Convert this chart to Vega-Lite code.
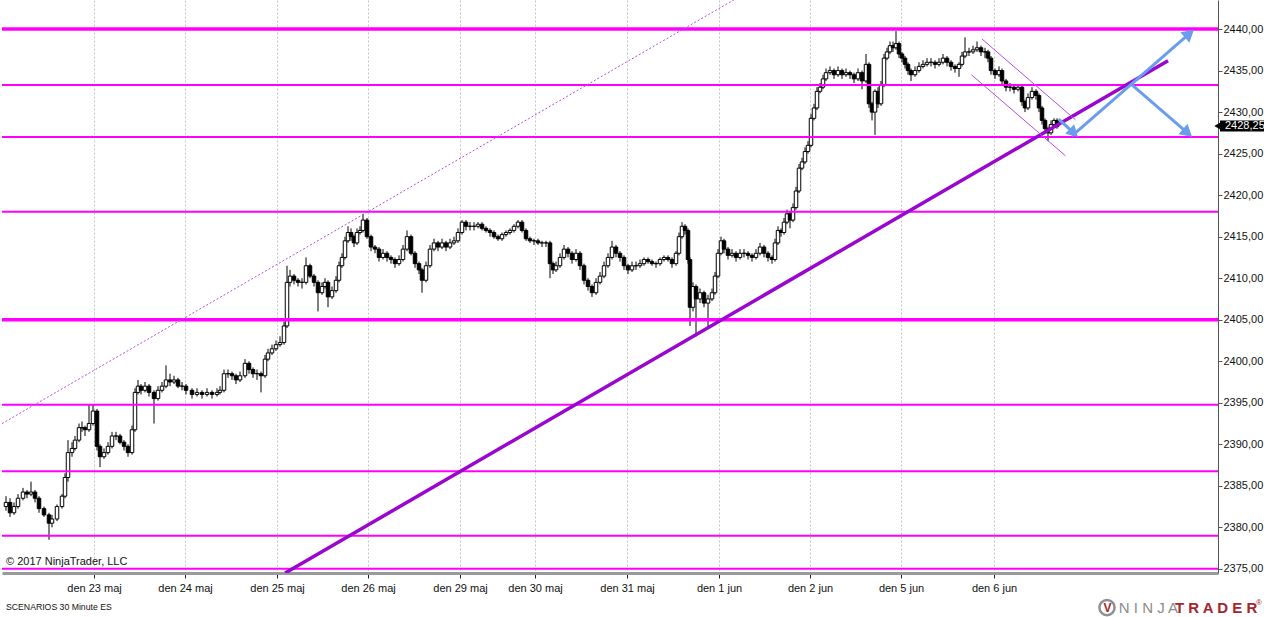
{
"$schema": "https://vega.github.io/schema/vega-lite/v6.json",
"width": 1216, "height": 573, "padding": 0, "background": "white",
"config": {"view": {"stroke": null}, "font": "Liberation Sans", "scale": {"continuousPadding": 0}},
"datasets": {
"bars": [
{"x":2,"o":2382.5,"h":2383.75,"l":2382,"c":2383},
{"x":4,"o":2383,"h":2383.5,"l":2381.25,"c":2381.75},
{"x":6,"o":2381.75,"h":2383,"l":2381.5,"c":2382.5},
{"x":8,"o":2382.5,"h":2384,"l":2382.25,"c":2383.5},
{"x":10.5,"o":2383.5,"h":2384.75,"l":2383.25,"c":2384.25},
{"x":12.5,"o":2384.25,"h":2384.5,"l":2383.5,"c":2384},
{"x":14.5,"o":2384,"h":2385.5,"l":2383.75,"c":2384.25},
{"x":16.5,"o":2384.25,"h":2384.5,"l":2383,"c":2383.5},
{"x":18.5,"o":2383.5,"h":2383.75,"l":2381.75,"c":2382.25},
{"x":21,"o":2382.25,"h":2382.5,"l":2381.25,"c":2381.5},
{"x":23.5,"o":2381.5,"h":2381.75,"l":2378.5,"c":2380.5},
{"x":25,"o":2380.5,"h":2381.5,"l":2380,"c":2381},
{"x":27.5,"o":2381,"h":2382.75,"l":2380.75,"c":2382.5},
{"x":30,"o":2382.5,"h":2384,"l":2382.25,"c":2383.75},
{"x":31.5,"o":2383.75,"h":2386.5,"l":2383.5,"c":2386},
{"x":33,"o":2386,"h":2390.5,"l":2385.5,"c":2389},
{"x":35,"o":2389,"h":2390.25,"l":2388.5,"c":2389.5},
{"x":36.5,"o":2389.5,"h":2391,"l":2389.25,"c":2390.5},
{"x":38.5,"o":2390.5,"h":2392.5,"l":2390.25,"c":2392},
{"x":40,"o":2392,"h":2392.75,"l":2391.5,"c":2392},
{"x":41.5,"o":2392,"h":2392.25,"l":2391,"c":2391.75},
{"x":43.5,"o":2391.75,"h":2394.75,"l":2391.5,"c":2392.5},
{"x":45.5,"o":2392.5,"h":2394.75,"l":2392.25,"c":2394},
{"x":47.5,"o":2394,"h":2394.25,"l":2389.25,"c":2389.75},
{"x":49,"o":2389.75,"h":2390,"l":2387.25,"c":2388.5},
{"x":51,"o":2388.5,"h":2389.5,"l":2388.25,"c":2389},
{"x":53,"o":2389,"h":2390.25,"l":2388.75,"c":2389.75},
{"x":55,"o":2389.75,"h":2391.5,"l":2389.5,"c":2391},
{"x":57,"o":2391,"h":2391.5,"l":2390.5,"c":2391},
{"x":59,"o":2391,"h":2391.25,"l":2390,"c":2390.25},
{"x":61,"o":2390.25,"h":2390.5,"l":2389.25,"c":2389.75},
{"x":63,"o":2389.75,"h":2390,"l":2388.5,"c":2389},
{"x":65,"o":2389,"h":2392.25,"l":2388.75,"c":2391.75},
{"x":66.5,"o":2391.75,"h":2396.75,"l":2391.5,"c":2396.25},
{"x":68,"o":2396.25,"h":2397.75,"l":2396,"c":2397},
{"x":69.5,"o":2397,"h":2397.25,"l":2396,"c":2396.5},
{"x":71.5,"o":2396.5,"h":2397.5,"l":2396.25,"c":2397},
{"x":73.5,"o":2397,"h":2397.25,"l":2395.75,"c":2396.25},
{"x":76,"o":2396.25,"h":2396.5,"l":2392.5,"c":2395.5},
{"x":78,"o":2395.5,"h":2397,"l":2395.25,"c":2396.5},
{"x":80,"o":2396.5,"h":2397.5,"l":2396.25,"c":2397},
{"x":82,"o":2397,"h":2399.5,"l":2396.75,"c":2397.75},
{"x":84,"o":2397.75,"h":2398.5,"l":2397,"c":2397.5},
{"x":86,"o":2397.5,"h":2398.25,"l":2397.25,"c":2397.75},
{"x":88,"o":2397.75,"h":2398,"l":2396.75,"c":2397},
{"x":90,"o":2397,"h":2397.5,"l":2396.5,"c":2397},
{"x":92,"o":2397,"h":2397.25,"l":2396,"c":2396.5},
{"x":95,"o":2396.5,"h":2396.75,"l":2395.5,"c":2396},
{"x":97.5,"o":2396,"h":2396.75,"l":2395.75,"c":2396.25},
{"x":100,"o":2396.25,"h":2396.5,"l":2395.5,"c":2396},
{"x":102.5,"o":2396,"h":2396.75,"l":2395.75,"c":2396.25},
{"x":105,"o":2396.25,"h":2396.5,"l":2395.5,"c":2396},
{"x":107.5,"o":2396,"h":2396.75,"l":2395.75,"c":2396.25},
{"x":109,"o":2396.25,"h":2397,"l":2396,"c":2396.5},
{"x":111,"o":2396.5,"h":2399,"l":2396.25,"c":2398.5},
{"x":113,"o":2398.5,"h":2399,"l":2398,"c":2398.5},
{"x":115,"o":2398.5,"h":2398.75,"l":2397.75,"c":2398.25},
{"x":117,"o":2398.25,"h":2398.5,"l":2397.25,"c":2397.75},
{"x":119,"o":2397.75,"h":2398.75,"l":2397.5,"c":2398.25},
{"x":121.5,"o":2398.25,"h":2400.25,"l":2398,"c":2399.75},
{"x":123.5,"o":2399.75,"h":2400,"l":2398.5,"c":2399},
{"x":125.5,"o":2399,"h":2399.25,"l":2398,"c":2398.5},
{"x":127.5,"o":2398.5,"h":2399,"l":2397.75,"c":2398.5},
{"x":129.5,"o":2398.5,"h":2398.75,"l":2396.25,"c":2398.25},
{"x":131.5,"o":2398.25,"h":2400.75,"l":2398,"c":2400.25},
{"x":133,"o":2400.25,"h":2401.5,"l":2400,"c":2401},
{"x":135,"o":2401,"h":2402,"l":2400.75,"c":2401.5},
{"x":137,"o":2401.5,"h":2402.5,"l":2401.25,"c":2402},
{"x":139,"o":2402,"h":2403,"l":2401.75,"c":2402.25},
{"x":141,"o":2402.25,"h":2404.75,"l":2402,"c":2404.25},
{"x":142.5,"o":2404.25,"h":2411.5,"l":2404,"c":2409.5},
{"x":144,"o":2409.5,"h":2411,"l":2409,"c":2410.25},
{"x":146,"o":2410.25,"h":2410.5,"l":2409.25,"c":2409.75},
{"x":148,"o":2409.75,"h":2410,"l":2409,"c":2409.5},
{"x":150,"o":2409.5,"h":2410,"l":2408.75,"c":2409.5},
{"x":152,"o":2409.5,"h":2412.5,"l":2409.25,"c":2411.5},
{"x":154,"o":2411.5,"h":2411.75,"l":2410,"c":2410.25},
{"x":156,"o":2410.25,"h":2410.5,"l":2409,"c":2409.5},
{"x":158,"o":2409.5,"h":2409.75,"l":2406,"c":2408.25},
{"x":160,"o":2408.25,"h":2409.5,"l":2408,"c":2409},
{"x":161.5,"o":2409,"h":2410,"l":2408.75,"c":2409.5},
{"x":163,"o":2409.5,"h":2409.75,"l":2406.5,"c":2407.75},
{"x":165,"o":2407.75,"h":2409,"l":2407.5,"c":2408.5},
{"x":167,"o":2408.5,"h":2410.25,"l":2408.25,"c":2409.75},
{"x":168.5,"o":2409.75,"h":2412,"l":2409.5,"c":2411.5},
{"x":170,"o":2411.5,"h":2413,"l":2411.25,"c":2412.5},
{"x":171.5,"o":2412.5,"h":2415,"l":2412.25,"c":2414.5},
{"x":173,"o":2414.5,"h":2416.25,"l":2414.25,"c":2415.5},
{"x":174.5,"o":2415.5,"h":2416,"l":2414.5,"c":2415},
{"x":176,"o":2415,"h":2415.25,"l":2413.75,"c":2414.25},
{"x":177.5,"o":2414.25,"h":2416,"l":2414,"c":2415.5},
{"x":179,"o":2415.5,"h":2416.25,"l":2415.25,"c":2415.75},
{"x":180.5,"o":2415.75,"h":2417.75,"l":2415.5,"c":2417},
{"x":182.5,"o":2417,"h":2417.25,"l":2414.75,"c":2415},
{"x":184.5,"o":2415,"h":2415.25,"l":2413.25,"c":2413.75},
{"x":186.5,"o":2413.75,"h":2414,"l":2413,"c":2413.5},
{"x":188.5,"o":2413.5,"h":2413.75,"l":2412,"c":2412.5},
{"x":190.5,"o":2412.5,"h":2413.5,"l":2412.25,"c":2413},
{"x":192.5,"o":2413,"h":2413.25,"l":2412,"c":2412.5},
{"x":194.5,"o":2412.5,"h":2412.75,"l":2411.75,"c":2412.25},
{"x":196.5,"o":2412.25,"h":2412.5,"l":2411.25,"c":2411.75},
{"x":198.5,"o":2411.75,"h":2412.75,"l":2411.5,"c":2412.25},
{"x":200.5,"o":2412.25,"h":2414,"l":2412,"c":2413.5},
{"x":202.5,"o":2413.5,"h":2415.75,"l":2413.25,"c":2415},
{"x":204.5,"o":2415,"h":2415.25,"l":2412.75,"c":2413},
{"x":206.5,"o":2413,"h":2413.25,"l":2411.25,"c":2411.75},
{"x":208.5,"o":2411.75,"h":2412,"l":2410.5,"c":2411},
{"x":210,"o":2411,"h":2411.25,"l":2408.25,"c":2409.75},
{"x":212,"o":2409.75,"h":2412,"l":2409.5,"c":2411.5},
{"x":214,"o":2411.5,"h":2414,"l":2411.25,"c":2413.5},
{"x":216,"o":2413.5,"h":2414.75,"l":2413.25,"c":2414.25},
{"x":218,"o":2414.25,"h":2414.5,"l":2413.25,"c":2413.75},
{"x":220,"o":2413.75,"h":2414.75,"l":2413.5,"c":2414.25},
{"x":222,"o":2414.25,"h":2414.5,"l":2413.25,"c":2413.75},
{"x":224,"o":2413.75,"h":2414.75,"l":2413.5,"c":2414.25},
{"x":226,"o":2414.25,"h":2415,"l":2414,"c":2414.5},
{"x":228,"o":2414.5,"h":2416,"l":2414.25,"c":2415.5},
{"x":230,"o":2415.5,"h":2417,"l":2415.25,"c":2416.75},
{"x":232,"o":2416.75,"h":2417,"l":2415.75,"c":2416.25},
{"x":234,"o":2416.25,"h":2416.75,"l":2415.75,"c":2416.25},
{"x":236,"o":2416.25,"h":2416.75,"l":2415.75,"c":2416.25},
{"x":238,"o":2416.25,"h":2416.75,"l":2416,"c":2416.5},
{"x":240,"o":2416.5,"h":2416.75,"l":2415.75,"c":2416},
{"x":242,"o":2416,"h":2416.25,"l":2415.5,"c":2415.75},
{"x":244,"o":2415.75,"h":2416,"l":2415,"c":2415.5},
{"x":246,"o":2415.5,"h":2415.75,"l":2414.75,"c":2415},
{"x":248,"o":2415,"h":2415.25,"l":2414.5,"c":2414.75},
{"x":250,"o":2414.75,"h":2415.5,"l":2414.5,"c":2415.25},
{"x":252,"o":2415.25,"h":2415.75,"l":2415,"c":2415.5},
{"x":254,"o":2415.5,"h":2416,"l":2415.25,"c":2415.75},
{"x":256,"o":2415.75,"h":2416.5,"l":2415.5,"c":2416.25},
{"x":258,"o":2416.25,"h":2417,"l":2416,"c":2416.75},
{"x":260,"o":2416.75,"h":2417,"l":2415.5,"c":2415.75},
{"x":262,"o":2415.75,"h":2416,"l":2414.5,"c":2414.75},
{"x":264,"o":2414.75,"h":2415,"l":2414.25,"c":2414.5},
{"x":266,"o":2414.5,"h":2414.75,"l":2414,"c":2414.5},
{"x":268,"o":2414.5,"h":2414.75,"l":2414,"c":2414.25},
{"x":270,"o":2414.25,"h":2414.5,"l":2413.75,"c":2414.25},
{"x":272,"o":2414.25,"h":2414.5,"l":2413.75,"c":2414.25},
{"x":274,"o":2414.25,"h":2414.5,"l":2410,"c":2411.75},
{"x":275.5,"o":2411.75,"h":2412,"l":2410.5,"c":2411},
{"x":277,"o":2411,"h":2412,"l":2410.75,"c":2411.5},
{"x":279,"o":2411.5,"h":2413,"l":2411.25,"c":2412.5},
{"x":281,"o":2412.5,"h":2414,"l":2412.25,"c":2413.5},
{"x":283,"o":2413.5,"h":2413.75,"l":2412.5,"c":2413},
{"x":285,"o":2413,"h":2413.25,"l":2411.75,"c":2412.25},
{"x":287,"o":2412.25,"h":2413.5,"l":2412,"c":2413},
{"x":289,"o":2413,"h":2413.25,"l":2411,"c":2411.5},
{"x":291,"o":2411.5,"h":2411.75,"l":2409.25,"c":2409.75},
{"x":293,"o":2409.75,"h":2410,"l":2408.5,"c":2409},
{"x":295,"o":2409,"h":2409.25,"l":2407.75,"c":2408.25},
{"x":297,"o":2408.25,"h":2410,"l":2408,"c":2409.5},
{"x":299,"o":2409.5,"h":2410.75,"l":2409.25,"c":2410.25},
{"x":301,"o":2410.25,"h":2412,"l":2410,"c":2411.5},
{"x":303,"o":2411.5,"h":2413,"l":2411.25,"c":2412.5},
{"x":305,"o":2412.5,"h":2414.5,"l":2412.25,"c":2413.75},
{"x":307,"o":2413.75,"h":2414,"l":2412.5,"c":2413},
{"x":309,"o":2413,"h":2413.25,"l":2412,"c":2412.5},
{"x":311,"o":2412.5,"h":2412.75,"l":2411,"c":2411.5},
{"x":313,"o":2411.5,"h":2411.75,"l":2410.5,"c":2411},
{"x":315,"o":2411,"h":2412,"l":2410.75,"c":2411.5},
{"x":317,"o":2411.5,"h":2412,"l":2411,"c":2411.5},
{"x":319,"o":2411.5,"h":2412.25,"l":2411.25,"c":2411.75},
{"x":321,"o":2411.75,"h":2412.5,"l":2411.5,"c":2412.25},
{"x":323,"o":2412.25,"h":2412.5,"l":2411.75,"c":2412},
{"x":325,"o":2412,"h":2412.25,"l":2411.5,"c":2411.75},
{"x":327,"o":2411.75,"h":2412,"l":2411.25,"c":2411.75},
{"x":329,"o":2411.75,"h":2412.5,"l":2411.5,"c":2412.25},
{"x":331,"o":2412.25,"h":2412.75,"l":2412,"c":2412.5},
{"x":333,"o":2412.5,"h":2412.75,"l":2412,"c":2412.25},
{"x":335,"o":2412.25,"h":2412.5,"l":2411.25,"c":2411.75},
{"x":337,"o":2411.75,"h":2413.25,"l":2411.5,"c":2413},
{"x":338.5,"o":2413,"h":2415.5,"l":2412.75,"c":2415},
{"x":340,"o":2415,"h":2416.75,"l":2414.75,"c":2416.25},
{"x":341.5,"o":2416.25,"h":2416.5,"l":2415.25,"c":2415.75},
{"x":343,"o":2415.75,"h":2416,"l":2411.75,"c":2412.25},
{"x":344,"o":2412.25,"h":2412.5,"l":2404.25,"c":2406.5},
{"x":345.5,"o":2406.5,"h":2409.5,"l":2406,"c":2409},
{"x":347,"o":2409,"h":2409.25,"l":2403,"c":2407.5},
{"x":349,"o":2407.5,"h":2408.75,"l":2407,"c":2408.25},
{"x":351,"o":2408.25,"h":2408.5,"l":2406.5,"c":2407},
{"x":353,"o":2407,"h":2408,"l":2404,"c":2407.5},
{"x":355,"o":2407.5,"h":2408.75,"l":2407.25,"c":2408.25},
{"x":356.5,"o":2408.25,"h":2410.75,"l":2408,"c":2410.25},
{"x":358,"o":2410.25,"h":2413.5,"l":2410,"c":2413},
{"x":359.5,"o":2413,"h":2415,"l":2412.75,"c":2414.5},
{"x":361,"o":2414.5,"h":2414.75,"l":2413,"c":2413.5},
{"x":363,"o":2413.5,"h":2413.75,"l":2412.25,"c":2412.75},
{"x":365,"o":2412.75,"h":2413.5,"l":2412.5,"c":2413},
{"x":367,"o":2413,"h":2413.25,"l":2412,"c":2412.5},
{"x":369,"o":2412.5,"h":2413.5,"l":2412.25,"c":2413},
{"x":371,"o":2413,"h":2413.5,"l":2412.5,"c":2413},
{"x":373,"o":2413,"h":2413.25,"l":2412.25,"c":2412.75},
{"x":375,"o":2412.75,"h":2413,"l":2412,"c":2412.5},
{"x":377,"o":2412.5,"h":2413.5,"l":2412.25,"c":2413},
{"x":379,"o":2413,"h":2414.25,"l":2412.75,"c":2413.75},
{"x":381,"o":2413.75,"h":2414,"l":2412.5,"c":2413},
{"x":383,"o":2413,"h":2413.25,"l":2412,"c":2412.5},
{"x":385,"o":2412.5,"h":2412.75,"l":2411.75,"c":2412.25},
{"x":386.5,"o":2412.25,"h":2414.75,"l":2412,"c":2414.25},
{"x":388,"o":2414.25,"h":2416.25,"l":2414,"c":2415.75},
{"x":389.5,"o":2415.75,"h":2416,"l":2415,"c":2415.5},
{"x":391,"o":2415.5,"h":2417.25,"l":2415.25,"c":2416.75},
{"x":392.5,"o":2416.75,"h":2418.25,"l":2416.5,"c":2417.75},
{"x":394,"o":2417.75,"h":2418,"l":2416,"c":2417},
{"x":395.5,"o":2417,"h":2419,"l":2416.75,"c":2418.5},
{"x":397,"o":2418.5,"h":2421,"l":2418.25,"c":2420.5},
{"x":398.5,"o":2420.5,"h":2423.75,"l":2420.25,"c":2423.25},
{"x":400,"o":2423.25,"h":2424.5,"l":2423,"c":2424},
{"x":401.5,"o":2424,"h":2425.75,"l":2423.75,"c":2425.25},
{"x":403,"o":2425.25,"h":2426.5,"l":2425,"c":2426},
{"x":404.5,"o":2426,"h":2429.75,"l":2425.75,"c":2429.25},
{"x":406,"o":2429.25,"h":2431,"l":2429,"c":2430.5},
{"x":407.5,"o":2430.5,"h":2433,"l":2430.25,"c":2432.5},
{"x":409,"o":2432.5,"h":2433.5,"l":2432.25,"c":2433},
{"x":410.5,"o":2433,"h":2434.5,"l":2432.75,"c":2434},
{"x":412,"o":2434,"h":2435.25,"l":2433.75,"c":2434.75},
{"x":414,"o":2434.75,"h":2435.5,"l":2434.5,"c":2435},
{"x":416,"o":2435,"h":2435.25,"l":2434,"c":2434.5},
{"x":418,"o":2434.5,"h":2435.5,"l":2434.25,"c":2435},
{"x":420,"o":2435,"h":2435.25,"l":2434,"c":2434.5},
{"x":422,"o":2434.5,"h":2435.25,"l":2434.25,"c":2434.75},
{"x":424,"o":2434.75,"h":2435,"l":2434,"c":2434.5},
{"x":426,"o":2434.5,"h":2434.75,"l":2433.5,"c":2434},
{"x":428,"o":2434,"h":2435.25,"l":2433.75,"c":2434.75},
{"x":430,"o":2434.75,"h":2435,"l":2432.75,"c":2433.75},
{"x":432,"o":2433.75,"h":2437,"l":2433.5,"c":2435.75},
{"x":433.5,"o":2435.75,"h":2436,"l":2430.5,"c":2431},
{"x":435,"o":2431,"h":2431.25,"l":2429,"c":2430},
{"x":436.5,"o":2430,"h":2432.75,"l":2427.25,"c":2432.5},
{"x":438,"o":2432.5,"h":2433,"l":2430.5,"c":2431},
{"x":439.5,"o":2431,"h":2433.75,"l":2430.75,"c":2433.25},
{"x":441,"o":2433.25,"h":2437,"l":2433,"c":2436.5},
{"x":442.5,"o":2436.5,"h":2437.75,"l":2436.25,"c":2437.25},
{"x":444,"o":2437.25,"h":2438.5,"l":2437,"c":2438},
{"x":445.5,"o":2438,"h":2438.5,"l":2437.25,"c":2437.75},
{"x":447,"o":2437.75,"h":2439.75,"l":2437.5,"c":2438.25},
{"x":448.5,"o":2438.25,"h":2438.5,"l":2436.5,"c":2437},
{"x":450,"o":2437,"h":2437.25,"l":2436,"c":2436.5},
{"x":451.5,"o":2436.5,"h":2436.75,"l":2435.25,"c":2435.75},
{"x":453,"o":2435.75,"h":2436,"l":2434.5,"c":2435},
{"x":454.5,"o":2435,"h":2435.25,"l":2433.75,"c":2434.5},
{"x":456.5,"o":2434.5,"h":2435.5,"l":2434.25,"c":2435},
{"x":458.5,"o":2435,"h":2436,"l":2434.75,"c":2435.5},
{"x":460.5,"o":2435.5,"h":2436.25,"l":2435.25,"c":2435.75},
{"x":462.5,"o":2435.75,"h":2436.5,"l":2435.5,"c":2436},
{"x":464.5,"o":2436,"h":2436.5,"l":2435.5,"c":2436},
{"x":466.5,"o":2436,"h":2436.25,"l":2435.25,"c":2435.75},
{"x":468.5,"o":2435.75,"h":2436.5,"l":2435.5,"c":2436},
{"x":470.5,"o":2436,"h":2437,"l":2435.75,"c":2436.5},
{"x":472.5,"o":2436.5,"h":2436.75,"l":2435.5,"c":2436},
{"x":474.5,"o":2436,"h":2436.25,"l":2435,"c":2435.5},
{"x":476.5,"o":2435.5,"h":2435.75,"l":2434.75,"c":2435.25},
{"x":478.5,"o":2435.25,"h":2436,"l":2434.25,"c":2435.75},
{"x":480,"o":2435.75,"h":2437.25,"l":2435.5,"c":2436.75},
{"x":481.5,"o":2436.75,"h":2439,"l":2436.5,"c":2437.25},
{"x":483.5,"o":2437.25,"h":2437.75,"l":2436.75,"c":2437.25},
{"x":485.5,"o":2437.25,"h":2438,"l":2437,"c":2437.5},
{"x":487.5,"o":2437.5,"h":2438.5,"l":2437.25,"c":2437.75},
{"x":489.5,"o":2437.75,"h":2438,"l":2436.75,"c":2437.25},
{"x":491.5,"o":2437.25,"h":2437.75,"l":2436.5,"c":2437.25},
{"x":493,"o":2437.25,"h":2437.5,"l":2436,"c":2436.5},
{"x":494.5,"o":2436.5,"h":2436.75,"l":2434.5,"c":2435},
{"x":496.5,"o":2435,"h":2435.25,"l":2434,"c":2434.5},
{"x":498.5,"o":2434.5,"h":2435.5,"l":2434.25,"c":2435},
{"x":500,"o":2435,"h":2435.25,"l":2433.25,"c":2433.75},
{"x":502,"o":2433.75,"h":2434,"l":2432.5,"c":2433},
{"x":504,"o":2433,"h":2433.5,"l":2432.5,"c":2433},
{"x":506,"o":2433,"h":2433.25,"l":2432.25,"c":2432.75},
{"x":508,"o":2432.75,"h":2433.25,"l":2432.5,"c":2433},
{"x":510,"o":2433,"h":2433.25,"l":2430.75,"c":2431.25},
{"x":511.5,"o":2431.25,"h":2431.5,"l":2430,"c":2430.5},
{"x":513,"o":2430.5,"h":2432.25,"l":2430.25,"c":2431.75},
{"x":515,"o":2431.75,"h":2433,"l":2431.5,"c":2432.5},
{"x":517,"o":2432.5,"h":2432.75,"l":2431.5,"c":2432},
{"x":518.5,"o":2432,"h":2432.25,"l":2430,"c":2430.5},
{"x":520,"o":2430.5,"h":2430.75,"l":2428.5,"c":2429},
{"x":521.5,"o":2429,"h":2429.25,"l":2427.5,"c":2428},
{"x":523,"o":2428,"h":2428.25,"l":2426.5,"c":2427.5},
{"x":524.5,"o":2427.5,"h":2429,"l":2427.25,"c":2428.5},
{"x":526,"o":2428.5,"h":2429.25,"l":2428.25,"c":2429},
{"x":527.5,"o":2429,"h":2429.25,"l":2428,"c":2428.25}
],
"majorLevels": [{"p":2440},{"p":2405}],
"minorLevels": [{"p":2433.25},{"p":2427},{"p":2418},{"p":2394.75},{"p":2386.75},{"p":2379},{"p":2375}],
"trend": [{"x":141.6,"y":2374.5},{"x":583,"y":2436.18}],
"channel": [{"x":0,"y":2392.49},{"x":366,"y":2443.53}],
"wedge": [{"id":"u","x":490,"y":2438.8},{"id":"u","x":536.7,"y":2429.08},{"id":"l","x":484.7,"y":2434.5},{"id":"l","x":531.7,"y":2424.75}],
"arrows": [{"id":"a1","x":528.3,"y":2429.16},{"id":"a1","x":535.85,"y":2427.49},{"id":"a2","x":535,"y":2427.15},{"id":"a2","x":593.7,"y":2439.45},{"id":"a3","x":565,"y":2433.29},{"id":"a3","x":592.75,"y":2427.5}]
},
"layer": [
{"data": {"name": "bars"},
 "mark": {"type": "rule", "color": "black", "strokeWidth": 1},
 "encoding": {
  "x": {"field": "x", "type": "quantitative", "title": null,
        "scale": {"domain": [0, 608], "nice": false, "zero": false, "padding": 0},
        "axis": {"orient": "bottom", "values": [46, 91.5, 137.5, 183, 229, 266.5, 312.5, 358.5, 404, 449.5, 496],
                 "labelExpr": "['den 23 maj','den 24 maj','den 25 maj','den 26 maj','den 29 maj','den 30 maj','den 31 maj','den 1 jun','den 2 jun','den 5 jun','den 6 jun'][indexof([46,91.5,137.5,183,229,266.5,312.5,358.5,404,449.5,496], datum.value)]",
                 "grid": true, "gridColor": "#c4c4c4", "gridDash": [2, 2], "gridWidth": 1,
                 "domainColor": "#9a9a9a", "domainWidth": 3, "tickColor": "#222", "tickSize": 5, "tickWidth": 1,
                 "labelFont": "Liberation Sans", "labelFontSize": 11, "labelColor": "#111", "labelPadding": 4,
                 "labelFlush": false, "labelOverlap": false}},
  "y": {"field": "l", "type": "quantitative", "title": null,
        "scale": {"domain": [2374.5, 2443.5], "nice": false, "zero": false, "padding": 0},
        "axis": {"orient": "right", "values": [2375,2380,2385,2390,2395,2400,2405,2410,2415,2420,2425,2430,2435,2440],
                 "labelExpr": "replace(format(datum.value, '.2f'), '.', ',')",
                 "grid": false, "domainColor": "#555", "domainWidth": 1, "tickColor": "#555", "tickSize": 4,
                 "labelFont": "Liberation Sans", "labelFontSize": 11, "labelColor": "#111", "labelPadding": 1,
                 "labelOverlap": false}},
  "y2": {"field": "h"}
 }},
{"data": {"name": "bars"},
 "mark": {"type": "bar", "size": 3.5, "stroke": "black", "strokeWidth": 1},
 "encoding": {
  "x": {"field": "x", "type": "quantitative", "title": null},
  "y": {"field": "o", "type": "quantitative", "title": null},
  "y2": {"field": "c"},
  "fill": {"condition": {"test": "datum.c >= datum.o", "value": "white"}, "value": "black"}
 }},
{"data": {"name": "minorLevels"},
 "mark": {"type": "rule", "color": "#ff00ff", "strokeWidth": 2},
 "encoding": {"y": {"field": "p", "type": "quantitative", "title": null}}},
{"data": {"name": "majorLevels"},
 "mark": {"type": "rule", "color": "#ff00ff", "strokeWidth": 3.5},
 "encoding": {"y": {"field": "p", "type": "quantitative", "title": null}}},
{"data": {"name": "channel"},
 "mark": {"type": "line", "color": "#b34ee6", "strokeWidth": 1, "strokeDash": [2, 2], "clip": true},
 "encoding": {"x": {"field": "x", "type": "quantitative", "title": null}, "y": {"field": "y", "type": "quantitative", "title": null}}},
{"data": {"name": "trend"},
 "mark": {"type": "line", "color": "#9a06cf", "strokeWidth": 3.5, "clip": true},
 "encoding": {"x": {"field": "x", "type": "quantitative", "title": null}, "y": {"field": "y", "type": "quantitative", "title": null}}},
{"data": {"name": "wedge"},
 "mark": {"type": "line", "color": "#b34ee6", "strokeWidth": 1},
 "encoding": {"x": {"field": "x", "type": "quantitative", "title": null}, "y": {"field": "y", "type": "quantitative", "title": null}, "detail": {"field": "id"}}},
{"data": {"name": "arrows"},
 "mark": {"type": "line", "color": "#6a9ded", "strokeWidth": 3},
 "encoding": {"x": {"field": "x", "type": "quantitative", "title": null}, "y": {"field": "y", "type": "quantitative", "title": null}, "detail": {"field": "id"}}},
{"data": {"values": [{}]},
 "mark": {"type": "point", "shape": "triangle-up", "filled": true, "color": "#6a9ded", "size": 170, "angle": 133.8, "opacity": 1},
 "encoding": {"x": {"datum": 535.85, "type": "quantitative"}, "y": {"datum": 2427.49, "type": "quantitative"}}},
{"data": {"values": [{}]},
 "mark": {"type": "point", "shape": "triangle-up", "filled": true, "color": "#6a9ded", "size": 190, "angle": 49.5, "opacity": 1},
 "encoding": {"x": {"datum": 593.7, "type": "quantitative"}, "y": {"datum": 2439.45, "type": "quantitative"}}},
{"data": {"values": [{}]},
 "mark": {"type": "point", "shape": "triangle-up", "filled": true, "color": "#6a9ded", "size": 190, "angle": 130.9, "opacity": 1},
 "encoding": {"x": {"datum": 592.75, "type": "quantitative"}, "y": {"datum": 2427.5, "type": "quantitative"}}},
{"data": {"values": [{}]},
 "mark": {"type": "rect", "color": "black"},
 "encoding": {"x": {"datum": 609, "type": "quantitative"}, "x2": {"datum": 631}, "y": {"datum": 2427.65, "type": "quantitative"}, "y2": {"datum": 2429.0}}},
{"data": {"values": [{}]},
 "mark": {"type": "point", "shape": "triangle-left", "filled": true, "color": "black", "size": 90, "opacity": 1},
 "encoding": {"x": {"datum": 608.2, "type": "quantitative"}, "y": {"datum": 2428.33, "type": "quantitative"}}},
{"data": {"values": [{}]},
 "mark": {"type": "text", "text": "2428,25", "color": "white", "font": "Liberation Sans", "fontSize": 11, "align": "left", "baseline": "middle"},
 "encoding": {"x": {"datum": 611.5, "type": "quantitative"}, "y": {"datum": 2428.33, "type": "quantitative"}}},
{"data": {"values": [{}]},
 "mark": {"type": "text", "text": "© 2017 NinjaTrader, LLC", "color": "#111", "font": "Liberation Sans", "fontSize": 11, "align": "left", "baseline": "alphabetic"},
 "encoding": {"x": {"datum": 2, "type": "quantitative"}, "y": {"datum": 2375.5, "type": "quantitative"}}},
{"data": {"values": [{}]},
 "mark": {"type": "text", "text": "SCENARIOS 30 Minute ES", "color": "#111", "font": "Liberation Sans", "fontSize": 8.7, "align": "left", "baseline": "middle"},
 "encoding": {"x": {"datum": 2, "type": "quantitative"}, "y": {"datum": 2370.46, "type": "quantitative"}}},
{"data": {"values": [{}]},
 "mark": {"type": "point", "shape": "circle", "filled": false, "stroke": "#8f8f8f", "strokeWidth": 2.5, "size": 230, "opacity": 1},
 "encoding": {"x": {"datum": 552.5, "type": "quantitative"}, "y": {"datum": 2370.34, "type": "quantitative"}}},
{"data": {"values": [{}]},
 "mark": {"type": "text", "text": "V", "color": "#a3262c", "font": "Liberation Sans", "fontSize": 12, "fontWeight": "bold", "align": "center", "baseline": "middle"},
 "encoding": {"x": {"datum": 552.7, "type": "quantitative"}, "y": {"datum": 2370.3, "type": "quantitative"}}},
{"data": {"values": [{}]},
 "mark": {"type": "text", "text": "N I N J A", "color": "#8c8c8c", "font": "Liberation Sans", "fontSize": 15, "align": "left", "baseline": "middle"},
 "encoding": {"x": {"datum": 558.4, "type": "quantitative"}, "y": {"datum": 2370.34, "type": "quantitative"}}},
{"data": {"values": [{}]},
 "mark": {"type": "text", "text": "T R A D E R", "color": "#a3262c", "font": "Liberation Sans", "fontSize": 15, "fontWeight": "bold", "align": "left", "baseline": "middle"},
 "encoding": {"x": {"datum": 586.5, "type": "quantitative"}, "y": {"datum": 2370.34, "type": "quantitative"}}},
{"data": {"values": [{}]},
 "mark": {"type": "text", "text": "®", "color": "#a3262c", "font": "Liberation Sans", "fontSize": 8, "align": "left", "baseline": "middle"},
 "encoding": {"x": {"datum": 627, "type": "quantitative"}, "y": {"datum": 2370.9, "type": "quantitative"}}}
]
}
